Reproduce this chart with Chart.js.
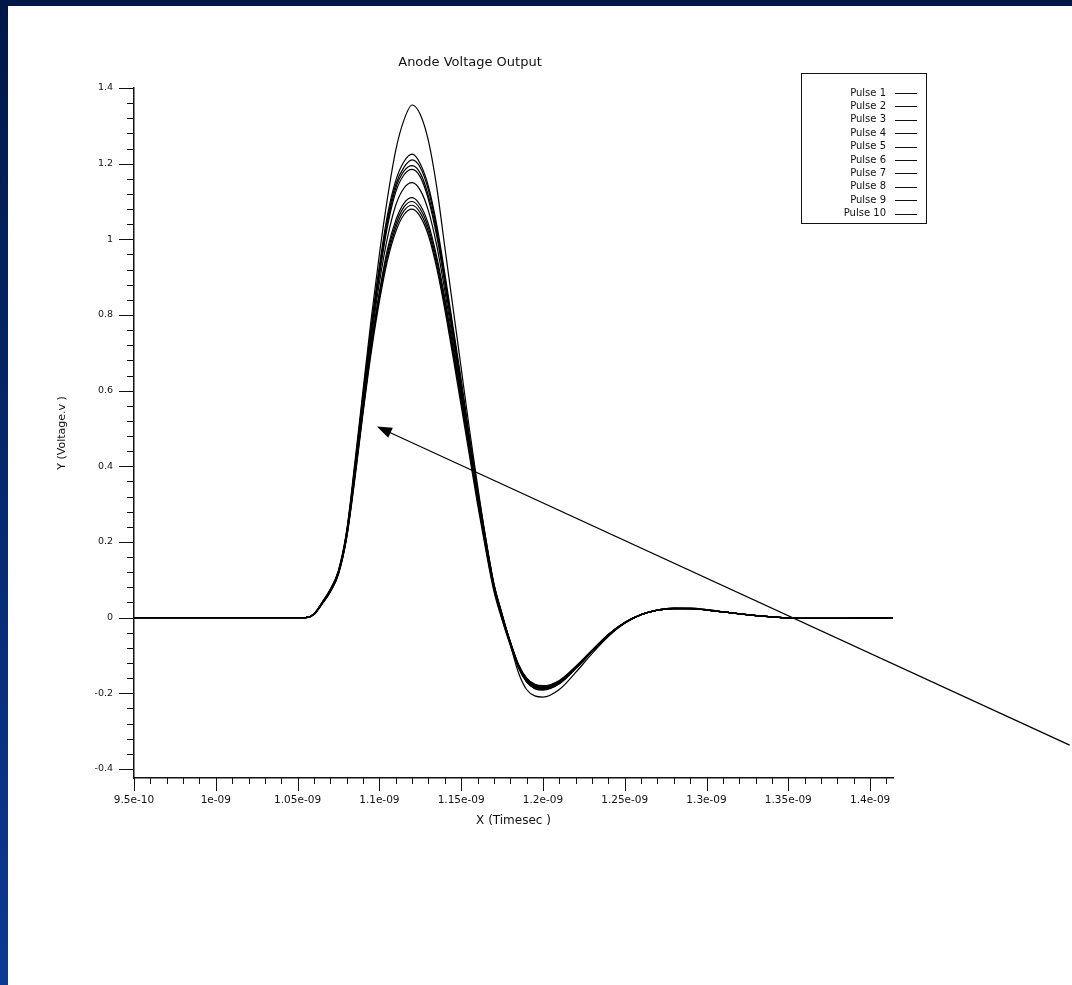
<!DOCTYPE html>
<html>
<head>
<meta charset="utf-8">
<title>Anode Voltage Output</title>
<script src="https://cdn.jsdelivr.net/npm/chart.js@4.4.1/dist/chart.umd.min.js"></script>
<style>
	html, body { margin: 0; padding: 0; background: #fff; }
	body { width: 1072px; height: 985px; position: relative; overflow: hidden; }
	.frame-top { position: absolute; left: 0; top: 0; width: 1072px; height: 6px; background: #001848; }
	.frame-left { position: absolute; left: 0; top: 0; width: 8px; height: 985px; background: linear-gradient(#001848, #0b3a94); }
	#pulseChart { position: absolute; left: 0; top: 0; }
</style>
</head>
<body>
<div class="frame-top"></div>
<div class="frame-left"></div>
<canvas id="pulseChart" width="1072" height="985"></canvas>
<script>
// time in ns (axis labels show seconds)
const timeNs = [0.95, 1.05, 1.055, 1.06, 1.065, 1.07, 1.075, 1.08, 1.085, 1.09, 1.095, 1.1, 1.105, 1.11, 1.115, 1.12, 1.125, 1.13, 1.135, 1.14, 1.145, 1.15, 1.155, 1.16, 1.165, 1.17, 1.175, 1.18, 1.185, 1.19, 1.195, 1.2, 1.21, 1.22, 1.23, 1.24, 1.25, 1.26, 1.27, 1.28, 1.29, 1.3, 1.32, 1.34, 1.36, 1.38, 1.414];

const pulse1 = [0, 0, 0, 0.01, 0.04, 0.075, 0.125, 0.23, 0.41, 0.6, 0.79, 0.96, 1.11, 1.235, 1.315, 1.355, 1.33, 1.26, 1.14, 0.98, 0.82, 0.66, 0.5, 0.35, 0.21, 0.09, 0.01, -0.07, -0.145, -0.19, -0.207, -0.21, -0.19, -0.145, -0.095, -0.05, -0.015, 0.008, 0.02, 0.025, 0.025, 0.021, 0.01, 0.002, -0.002, -0.002, 0];
const pulse2 = [0, 0, 0, 0.01, 0.04, 0.074, 0.123, 0.226, 0.4, 0.59, 0.77, 0.93, 1.065, 1.155, 1.205, 1.225, 1.2, 1.14, 1.04, 0.91, 0.77, 0.63, 0.48, 0.34, 0.21, 0.09, 0.01, -0.065, -0.13, -0.17, -0.188, -0.192, -0.175, -0.135, -0.09, -0.047, -0.014, 0.008, 0.02, 0.025, 0.025, 0.021, 0.01, 0.002, -0.002, -0.002, 0];
const pulse3 = [0, 0, 0, 0.009, 0.039, 0.073, 0.122, 0.224, 0.395, 0.585, 0.76, 0.92, 1.055, 1.145, 1.19, 1.21, 1.19, 1.13, 1.03, 0.9, 0.76, 0.62, 0.475, 0.335, 0.205, 0.088, 0.008, -0.064, -0.128, -0.166, -0.184, -0.188, -0.172, -0.133, -0.089, -0.046, -0.014, 0.008, 0.02, 0.025, 0.024, 0.02, 0.01, 0.002, -0.002, -0.002, 0];
const pulse4 = [0, 0, 0, 0.01, 0.04, 0.074, 0.123, 0.225, 0.395, 0.58, 0.755, 0.91, 1.045, 1.135, 1.18, 1.195, 1.175, 1.115, 1.02, 0.89, 0.75, 0.61, 0.47, 0.33, 0.2, 0.085, 0.006, -0.063, -0.125, -0.163, -0.18, -0.185, -0.17, -0.132, -0.088, -0.045, -0.013, 0.008, 0.02, 0.024, 0.024, 0.02, 0.01, 0.002, -0.002, -0.002, 0];
const pulse5 = [0, 0, 0, 0.009, 0.038, 0.072, 0.12, 0.22, 0.39, 0.575, 0.75, 0.905, 1.035, 1.125, 1.17, 1.185, 1.165, 1.105, 1.01, 0.885, 0.745, 0.605, 0.465, 0.328, 0.198, 0.083, 0.004, -0.063, -0.123, -0.16, -0.177, -0.182, -0.168, -0.13, -0.087, -0.045, -0.013, 0.008, 0.02, 0.024, 0.024, 0.02, 0.01, 0.002, -0.002, -0.002, 0];
const pulse6 = [0, 0, 0, 0.009, 0.038, 0.072, 0.12, 0.22, 0.385, 0.565, 0.735, 0.885, 1.005, 1.09, 1.135, 1.15, 1.13, 1.075, 0.985, 0.865, 0.73, 0.595, 0.46, 0.325, 0.197, 0.083, 0.003, -0.064, -0.124, -0.16, -0.176, -0.18, -0.166, -0.129, -0.086, -0.044, -0.013, 0.008, 0.02, 0.024, 0.024, 0.02, 0.01, 0.002, -0.002, -0.002, 0];
const pulse7 = [0, 0, 0, 0.009, 0.037, 0.07, 0.117, 0.215, 0.38, 0.555, 0.72, 0.86, 0.975, 1.05, 1.095, 1.11, 1.09, 1.04, 0.955, 0.845, 0.715, 0.585, 0.45, 0.32, 0.195, 0.082, 0.002, -0.066, -0.126, -0.163, -0.18, -0.184, -0.169, -0.131, -0.087, -0.045, -0.013, 0.008, 0.02, 0.024, 0.024, 0.02, 0.01, 0.002, -0.002, -0.002, 0];
const pulse8 = [0, 0, 0, 0.009, 0.037, 0.07, 0.117, 0.215, 0.375, 0.55, 0.715, 0.855, 0.965, 1.04, 1.085, 1.1, 1.08, 1.03, 0.945, 0.835, 0.71, 0.58, 0.445, 0.315, 0.19, 0.078, 0, -0.068, -0.127, -0.164, -0.181, -0.185, -0.17, -0.132, -0.088, -0.045, -0.013, 0.008, 0.02, 0.024, 0.024, 0.02, 0.01, 0.002, -0.002, -0.002, 0];
const pulse9 = [0, 0, 0, 0.008, 0.036, 0.068, 0.115, 0.212, 0.37, 0.545, 0.71, 0.845, 0.955, 1.03, 1.075, 1.09, 1.07, 1.02, 0.935, 0.825, 0.7, 0.57, 0.44, 0.31, 0.186, 0.075, -0.003, -0.07, -0.13, -0.166, -0.183, -0.187, -0.172, -0.133, -0.089, -0.046, -0.014, 0.008, 0.02, 0.024, 0.024, 0.02, 0.01, 0.002, -0.002, -0.002, 0];
const pulse10 = [0, 0, 0, 0.008, 0.036, 0.068, 0.115, 0.21, 0.365, 0.54, 0.7, 0.835, 0.945, 1.02, 1.065, 1.08, 1.06, 1.01, 0.925, 0.815, 0.69, 0.56, 0.43, 0.3, 0.18, 0.07, -0.006, -0.073, -0.133, -0.17, -0.187, -0.19, -0.175, -0.135, -0.09, -0.047, -0.014, 0.008, 0.02, 0.024, 0.024, 0.02, 0.01, 0.002, -0.002, -0.002, 0];

const pulseNames = ['Pulse 1', 'Pulse 2', 'Pulse 3', 'Pulse 4', 'Pulse 5', 'Pulse 6', 'Pulse 7', 'Pulse 8', 'Pulse 9', 'Pulse 10'];
const pulses = [pulse1, pulse2, pulse3, pulse4, pulse5, pulse6, pulse7, pulse8, pulse9, pulse10];

const xTickValues = [0.95, 1.0, 1.05, 1.1, 1.15, 1.2, 1.25, 1.3, 1.35, 1.4];
const xTickLabels = ['9.5e-10', '1e-09', '1.05e-09', '1.1e-09', '1.15e-09', '1.2e-09', '1.25e-09', '1.3e-09', '1.35e-09', '1.4e-09'];
const yTickValues = [-0.4, -0.2, 0, 0.2, 0.4, 0.6, 0.8, 1, 1.2, 1.4];
const yTickLabels = ['-0.4', '-0.2', '0', '0.2', '0.4', '0.6', '0.8', '1', '1.2', '1.4'];

// arrow annotation, in data units (tail is off the plot, at the page edge)
const arrowFrom = { x: 1.522, y: -0.337 };
const arrowTo = { x: 1.0985, y: 0.505 };

const ink = '#111';

const tickMarks = {
	id: 'tickMarks',
	afterDraw(chart) {
		const c = chart.ctx;
		const x = chart.scales.x;
		const y = chart.scales.y;
		const area = chart.chartArea;
		c.save();
		c.strokeStyle = ink;
		c.lineWidth = 1;
		c.beginPath();
		for (let i = 0; i <= 46; i++) {
			const v = 0.95 + i * 0.01;
			if (v > x.max + 1e-9) break;
			const px = Math.round(x.getPixelForValue(v)) + 0.5;
			const len = i % 5 === 0 ? 13 : 6;
			c.moveTo(px, area.bottom);
			c.lineTo(px, area.bottom + len);
		}
		for (let i = 0; i <= 45; i++) {
			const v = -0.4 + i * 0.04;
			if (v > y.max + 1e-9) break;
			const py = Math.round(y.getPixelForValue(v)) + 0.5;
			const len = i % 5 === 0 ? 15 : 7;
			c.moveTo(area.left, py);
			c.lineTo(area.left - len, py);
		}
		c.stroke();
		c.restore();
	},
};

const pulseLegend = {
	id: 'pulseLegend',
	afterDraw(chart) {
		const c = chart.ctx;
		const left = 801, top = 73, w = 125, h = 150;
		c.save();
		c.strokeStyle = ink;
		c.lineWidth = 1;
		c.strokeRect(left + 0.5, top + 0.5, w, h);
		c.font = '10px "DejaVu Sans"';
		c.fillStyle = ink;
		c.textAlign = 'right';
		c.textBaseline = 'middle';
		chart.data.datasets.forEach((ds, i) => {
			const ly = top + 20 + i * 13.4;
			c.fillText(ds.label, left + 85, ly);
			c.beginPath();
			c.moveTo(left + 94, Math.round(ly) + 0.5);
			c.lineTo(left + 116, Math.round(ly) + 0.5);
			c.stroke();
		});
		c.restore();
	},
};

const arrowNote = {
	id: 'arrowNote',
	afterDraw(chart) {
		const c = chart.ctx;
		const x = chart.scales.x;
		const y = chart.scales.y;
		const x0 = x.getPixelForValue(arrowFrom.x), y0 = y.getPixelForValue(arrowFrom.y);
		const x1 = x.getPixelForValue(arrowTo.x), y1 = y.getPixelForValue(arrowTo.y);
		const ang = Math.atan2(y1 - y0, x1 - x0);
		c.save();
		c.strokeStyle = '#000';
		c.fillStyle = '#000';
		c.lineWidth = 1.2;
		c.beginPath();
		c.moveTo(x0, y0);
		c.lineTo(x1 - 10 * Math.cos(ang), y1 - 10 * Math.sin(ang));
		c.stroke();
		c.beginPath();
		c.moveTo(x1, y1);
		c.lineTo(x1 - 15 * Math.cos(ang) + 5.5 * Math.sin(ang), y1 - 15 * Math.sin(ang) - 5.5 * Math.cos(ang));
		c.lineTo(x1 - 15 * Math.cos(ang) - 5.5 * Math.sin(ang), y1 - 15 * Math.sin(ang) + 5.5 * Math.cos(ang));
		c.closePath();
		c.fill();
		c.restore();
	},
};

const ctx = document.getElementById('pulseChart').getContext('2d');
const chart = new Chart(ctx, {
	type: 'line',
	data: {
		datasets: pulses.map((vals, i) => ({
			label: pulseNames[i],
			data: vals.map((v, j) => ({ x: timeNs[j], y: v })),
			borderColor: '#000',
			borderWidth: 1.2,
			pointRadius: 0,
			fill: false,
			cubicInterpolationMode: 'monotone',
		})),
	},
	options: {
		responsive: false,
		animation: false,
		devicePixelRatio: 1,
		layout: {
			padding: { left: 47, right: 179, top: 0, bottom: 157 },
		},
		plugins: {
			legend: { display: false },
			tooltip: { enabled: false },
			title: {
				display: true,
				text: 'Anode Voltage Output',
				color: ink,
				font: { family: 'DejaVu Sans', size: 13, weight: 'normal' },
				padding: { top: 55, bottom: 17.4 },
			},
		},
		scales: {
			x: {
				type: 'linear',
				min: 0.95,
				max: 1.414,
				afterFit(scale) { scale.height = 50; },
				afterBuildTicks(scale) { scale.ticks = xTickValues.map(v => ({ value: v })); },
				grid: { display: false, drawTicks: false },
				border: { display: true, color: ink, width: 1.5 },
				ticks: {
					autoSkip: false,
					maxRotation: 0,
					padding: 16,
					color: ink,
					font: { family: 'DejaVu Sans', size: 10.5 },
					callback: (value, index) => xTickLabels[index],
				},
				title: {
					display: true,
					text: 'X (Timesec )',
					color: ink,
					font: { family: 'DejaVu Sans', size: 12 },
					padding: { top: 0, bottom: 0 },
				},
			},
			y: {
				type: 'linear',
				min: -0.424,
				max: 1.4,
				afterFit(scale) { scale.width = 87; },
				afterBuildTicks(scale) { scale.ticks = yTickValues.map(v => ({ value: v })); },
				grid: { display: false, drawTicks: false },
				border: { display: true, color: ink, width: 1.5 },
				ticks: {
					autoSkip: false,
					padding: 21,
					color: ink,
					font: { family: 'DejaVu Sans', size: 9.5 },
					callback: (value, index) => yTickLabels[index],
				},
				title: {
					display: true,
					text: 'Y (Voltage.v )',
					color: ink,
					font: { family: 'DejaVu Sans', size: 11 },
					padding: { top: 9, bottom: 0 },
				},
			},
		},
	},
	plugins: [tickMarks, pulseLegend, arrowNote],
});
</script>
</body>
</html>
